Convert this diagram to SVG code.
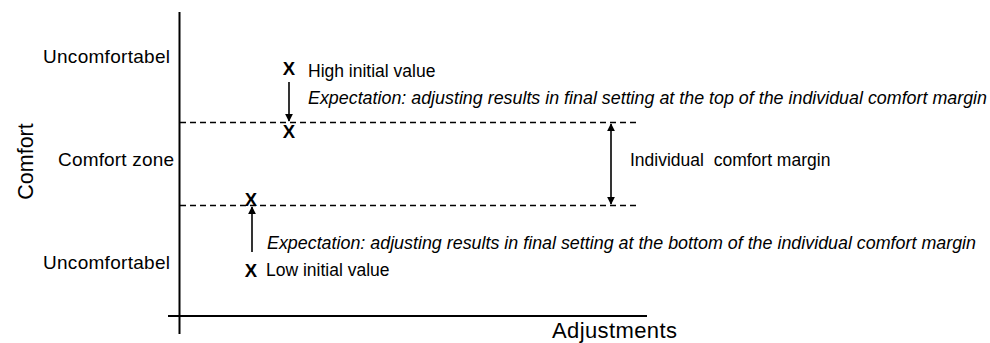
<svg xmlns="http://www.w3.org/2000/svg" width="990" height="343" viewBox="0 0 990 343">
<style>
text{font-family:"Liberation Sans",Arial,sans-serif;fill:#000}
.lbl{font-size:19px}
.it{font-size:17.8px;font-style:italic}
.sm{font-size:17.5px;white-space:pre}
.x{font-size:18.5px;font-weight:bold}
.ax{stroke:#000;stroke-width:2;fill:none}
.dash{stroke:#000;stroke-width:1.6;stroke-dasharray:6 4;fill:none}
.arr{stroke:#000;stroke-width:1.6;fill:none}
</style>
<defs>
<marker id="ah" viewBox="0 0 10 10" refX="9" refY="5" markerWidth="8" markerHeight="9" markerUnits="userSpaceOnUse" orient="auto-start-reverse"><path d="M0,0L10,5L0,10z" fill="#000"/></marker>
</defs>
<rect width="990" height="343" fill="#fff"/>
<g id="axes">
<line class="ax" x1="179.5" y1="12" x2="179.5" y2="334"/>
<line class="ax" x1="168" y1="316" x2="647" y2="316"/>
<text class="lbl" x="552" y="338" style="font-size:22px" textLength="125">Adjustments</text>
<text class="lbl" transform="translate(33,161.5) rotate(-90)" text-anchor="middle" style="font-size:21.5px">Comfort</text>
</g>
<g id="zones">
<text class="lbl" x="43" y="63" textLength="127">Uncomfortabel</text>
<text class="lbl" x="58" y="166" textLength="116">Comfort zone</text>
<text class="lbl" x="43" y="269" textLength="127">Uncomfortabel</text>
</g>
<g id="connectors">
<line class="dash" x1="180" y1="122.5" x2="638" y2="122.5"/>
<line class="dash" x1="180" y1="205.5" x2="638" y2="205.5"/>
<line class="arr" x1="289" y1="82" x2="289" y2="121" marker-end="url(#ah)"/>
<line class="arr" x1="252" y1="252" x2="252" y2="207" marker-end="url(#ah)"/>
<line class="arr" x1="611" y1="124" x2="611" y2="204" marker-start="url(#ah)" marker-end="url(#ah)"/>
</g>
<g id="high">
<text class="x" x="289" y="75" text-anchor="middle">X</text>
<text class="sm" x="308" y="77">High initial value</text>
<text class="it" x="308" y="104" textLength="679" lengthAdjust="spacingAndGlyphs">Expectation: adjusting results in final setting at the top of the individual comfort margin</text>
<text class="x" x="289" y="138" text-anchor="middle">X</text>
</g>
<g id="low">
<text class="x" x="251" y="206" text-anchor="middle">X</text>
<text class="it" x="267" y="249" textLength="709" lengthAdjust="spacingAndGlyphs">Expectation: adjusting results in final setting at the bottom of the individual comfort margin</text>
<text class="x" x="251" y="277" text-anchor="middle">X</text>
<text class="sm" x="266" y="276">Low initial value</text>
</g>
<g id="margin">
<text class="sm" x="630" y="166">Individual  comfort margin</text>
</g>
</svg>
